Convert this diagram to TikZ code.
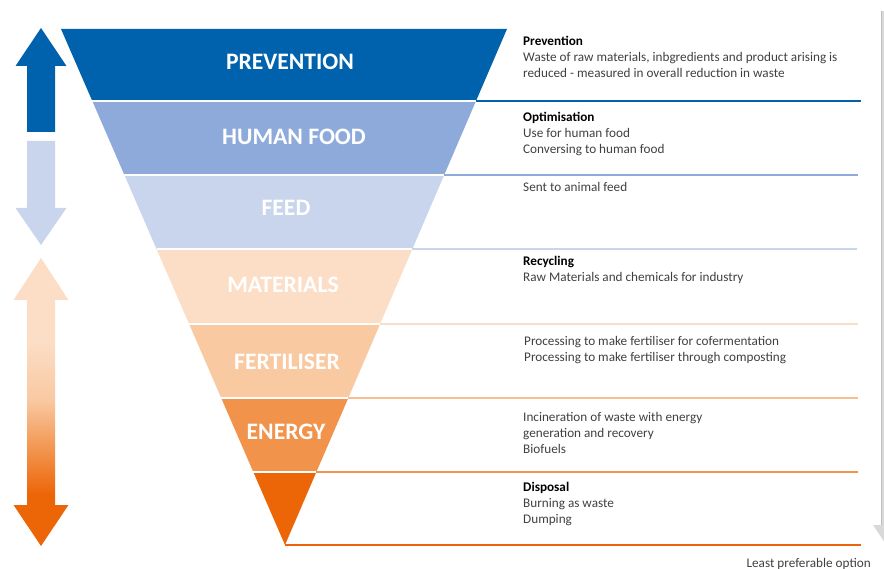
\documentclass[tikz,border=0pt]{standalone}
\usepackage{fontspec}
\setmainfont{Carlito}
\usetikzlibrary{positioning}

\definecolor{prevcol}{RGB}{0,98,173}
\definecolor{foodcol}{RGB}{142,170,219}
\definecolor{feedcol}{RGB}{201,213,237}
\definecolor{matcol}{RGB}{252,222,198}
\definecolor{fertcol}{RGB}{249,201,162}
\definecolor{enercol}{RGB}{242,147,76}
\definecolor{dispcol}{RGB}{236,102,8}
\definecolor{txtcol}{RGB}{64,64,64}

\pgfdeclareverticalshading{recyclefade}{100bp}{color(0bp)=(dispcol); color(34bp)=(dispcol); color(41.5bp)=(enercol); color(50.5bp)=(fertcol); color(60.75bp)=(matcol); color(100bp)=(matcol)}

\begin{document}
\begin{tikzpicture}[x=1pt,y=-1pt,
	lvl/.style={font=\fontsize{23.6}{23.6}\selectfont\bfseries, text=white, inner sep=0},
	desc/.style={font=\fontsize{13.2}{16}\selectfont, text=txtcol, align=left, anchor=base west, inner sep=0},
	gap/.style={white, line width=1.6pt}]
	\path[use as bounding box, clip] (0,0) rectangle (884,569);
	% funnel bands
	\fill[prevcol] (61,29) -- (507,29) -- (476,101) -- (92.3,101) -- cycle;
	\fill[foodcol] (92.3,101) -- (476,101) -- (444.2,175) -- (124.4,175) -- cycle;
	\fill[feedcol] (124.4,175) -- (444.2,175) -- (412.4,249) -- (156.5,249) -- cycle;
	\fill[matcol] (156.5,249) -- (412.4,249) -- (380.1,324) -- (189.1,324) -- cycle;
	\fill[fertcol] (189.1,324) -- (380.1,324) -- (348.3,398) -- (221.2,398) -- cycle;
	\fill[enercol] (221.2,398) -- (348.3,398) -- (316.4,472) -- (253.3,472) -- cycle;
	\fill[dispcol] (253.3,472) -- (316.4,472) -- (285,545) -- cycle;
	\foreach \y/\l/\r in {101/92.3/476, 175/124.4/444.2, 249/156.5/412.4, 324/189.1/380.1, 398/221.2/348.3, 472/253.3/316.4}
		\draw[gap] (\l,\y) -- (\r,\y);
	% separators on the right
	\draw[prevcol, line width=2pt] (476,101) -- (861,101);
	\draw[foodcol, line width=1.2pt] (444.2,175) -- (858,175);
	\draw[feedcol, line width=1.2pt] (412.4,249) -- (857,249);
	\draw[matcol, line width=1.2pt] (380.1,324) -- (858,324);
	\draw[fertcol!80!enercol, line width=1.2pt] (348.3,398) -- (858,398);
	\draw[enercol, line width=1.2pt] (316.4,472) -- (858,472);
	\draw[dispcol, line width=1.2pt] (285,545) -- (861,545);
	% level names
	\node[lvl] (prev) at (290,62) {PREVENTION};
	\node[lvl] (food) at (294,137) {HUMAN FOOD};
	\node[lvl] (feed) at (286,208) {FEED};
	\node[lvl] (mat) at (283,285) {MATERIALS};
	\node[lvl] (fert) at (287,362) {FERTILISER};
	\node[lvl] (ener) at (286,432) {ENERGY};
	% arrows on the left
	\fill[prevcol] (27,132) -- (27,66) -- (15.5,66) -- (41,28) -- (66.5,66) -- (55,66) -- (55,132) -- cycle;
	\fill[feedcol] (27,141) -- (27,208) -- (15.5,208) -- (41,245) -- (66.5,208) -- (55,208) -- (55,141) -- cycle;
	\shade[shading=recyclefade] (41,258) -- (68.5,300) -- (55,300) -- (55,505) -- (68.5,505) -- (41,546) -- (13.5,505) -- (27,505) -- (27,300) -- (13.5,300) -- cycle;
	% arrow on the right, cut off
	\fill[black!15] (881.5,11) rectangle (893,525);
	\draw[black!25] (881.5,11) -- (881.5,525);
	\fill[black!15] (873,525) -- (901,525) -- (887,546) -- cycle;
	% descriptions, placed by their last line
	\node[desc] (dprev) at (523,78) {\textbf{\color{black}Prevention}\\Waste of raw materials, inbgredients and product arising is\\reduced - measured in overall reduction in waste};
	\node[desc] (dfood) at (523,154) {\textbf{\color{black}Optimisation}\\Use for human food\\Conversing to human food};
	\node[desc] (dfeed) at (523,192) {Sent to animal feed};
	\node[desc] (dmat) at (523,282) {\textbf{\color{black}Recycling}\\Raw Materials and chemicals for industry};
	\node[desc] (dfert) at (524,362) {Processing to make fertiliser for cofermentation\\Processing to make fertiliser through composting};
	\node[desc] (dener) at (523,453) {Incineration of waste with energy\\generation and recovery\\Biofuels};
	\node[desc] (ddisp) at (523,523) {\textbf{\color{black}Disposal}\\Burning as waste\\Dumping};
	\node[desc, anchor=base east] (least) at (871,567) {Least preferable option};
\end{tikzpicture}
\end{document}
